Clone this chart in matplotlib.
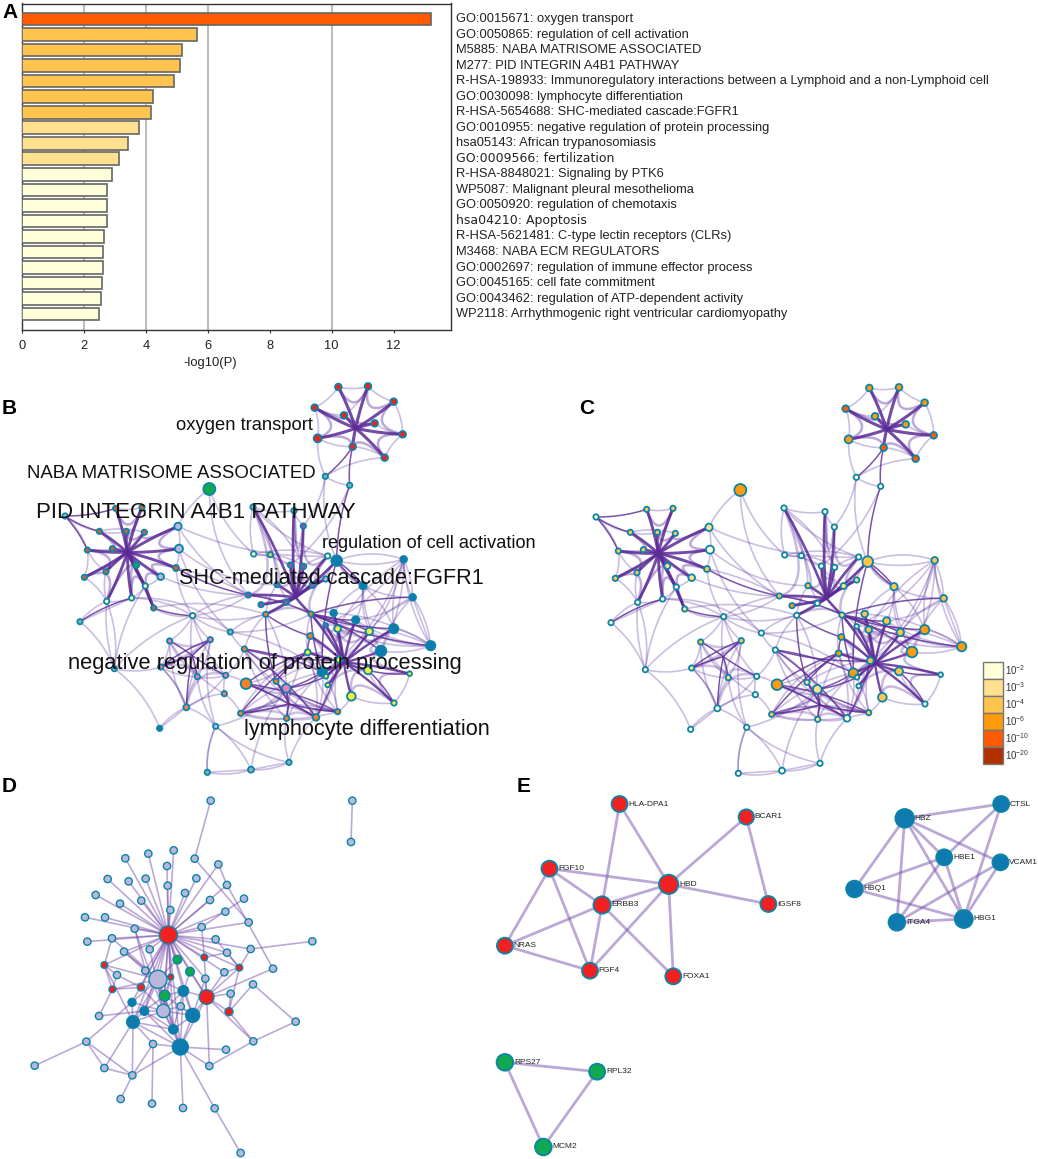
import matplotlib
matplotlib.use("Agg")
import matplotlib.pyplot as plt
from matplotlib.collections import LineCollection
import numpy as np

plt.rcParams['font.family']=['Liberation Sans','DejaVu Sans']

W,H=1038,1159

# ------------------------- panel A data -------------------------
terms=["GO:0015671: oxygen transport","GO:0050865: regulation of cell activation",
       "M5885: NABA MATRISOME ASSOCIATED","M277: PID INTEGRIN A4B1 PATHWAY",
       "R-HSA-198933: Immunoregulatory interactions between a Lymphoid and a non-Lymphoid cell",
       "GO:0030098: lymphocyte differentiation","R-HSA-5654688: SHC-mediated cascade:FGFR1",
       "GO:0010955: negative regulation of protein processing","hsa05143: African trypanosomiasis",
       "GO:0009566: fertilization","R-HSA-8848021: Signaling by PTK6",
       "WP5087: Malignant pleural mesothelioma","GO:0050920: regulation of chemotaxis",
       "hsa04210: Apoptosis","R-HSA-5621481: C-type lectin receptors (CLRs)",
       "M3468: NABA ECM REGULATORS","GO:0002697: regulation of immune effector process",
       "GO:0045165: cell fate commitment","GO:0043462: regulation of ATP-dependent activity",
       "WP2118: Arrhythmogenic right ventricular cardiomyopathy"]
logp=[13.2,5.65,5.18,5.11,4.90,4.24,4.15,3.77,3.41,3.12,2.92,2.76,2.75,2.73,2.66,2.63,2.61,2.59,2.55,2.49]
bar_bin=[4,2,2,2,2,2,2,1,1,1,0,0,0,0,0,0,0,0,0,0]
dejavu_terms=[9,13]

p_colors=['#ffffd9','#ffe08f','#ffc44d','#ff9a0a','#ff5a00','#b03000']
p_labels=['-2','-3','-4','-6','-10','-20']

# ------------------------- panels B and C share one layout (crop units) -------------------------
net_x=[838,927,1004,767,855,947,1031,776,881,977,799,872,
       451,357,360,18,170,249,121,202,256,85,160,76,141,232,305,351,259,143,218,284,63,166,
       401,514,332,454,305,415,500,496,382,302,470,445,576,690,561,682,651,545,683,771,836,556,
       582,705,733,584,634,806,833,694,734,800,654,761,568,606,682,620,756,
       912,1034,1061,824,890,800,836,931,1004,754,1115,966,746,841,790,927,1052,801,806,877,1005]
net_y=[24,22,68,86,109,133,166,178,203,236,292,319,
       330,442,509,411,388,385,457,457,460,513,509,595,578,558,593,567,621,667,657,687,728,869,
       710,759,786,782,864,893,889,944,985,1048,1042,1180,1172,1150,914,928,907,1003,1018,1015,998,810,
       384,395,441,525,527,531,545,558,562,600,617,618,648,677,670,706,705,
       620,541,655,702,723,739,749,757,749,771,800,816,820,842,879,874,884,892,918,952,972]
net_r=[10,10,10,10,10,10,10,12,10,10,8,8,
       18,11,12,8,8,8,8,8,8,8,8,8,8,9,10,9,8,8,8,8,8,8,
       8,8,8,8,8,8,8,8,9,8,8,8,9,8,16,13,8,8,8,10,8,8,
       8,8,8,8,8,8,16,8,8,8,8,9,8,8,8,8,8,
       11,10,10,10,11,7,10,11,14,9,14,16,9,10,14,12,7,7,7,13,8]
# p bin for panel C
net_p=[3,3,3,4,3,3,4,3,4,4,0,0,
       3,1,0,0,2,2,2,2,2,2,2,2,2,1,1,2,0,0,0,1,0,0,
       0,0,2,2,1,1,0,0,0,0,0,0,0,0,3,1,1,2,1,0,2,0,
       0,0,0,0,0,0,2,0,0,1,2,1,2,3,0,0,1,
       2,2,2,2,2,0,2,2,3,3,3,3,3,2,3,2,0,0,0,2,0]
# cluster colour for panel B
b_palette={'r':'#f22020','g':'#10a850','l':'#b8b8dc','n':'#c8642a','y':'#f5ee3c','k':'#ee7fb8',
           'o':'#f78028','s':'#f08060','w':'#ffffb0','p':'#8a5aa8','t':'#7fb5c0','b':'#0f7ab0','v':'#bcd850'}
net_group=list("rrrrrrrrrrtt")
net_group+=list("glllnnnnnnnnnglnwwwntt")
net_group+=list("wtkkkkkssblttt")+list("okoooooo")
net_group+=list("ttpwvwbpplppppp")+list("oo")
net_group+=list("bbbbbpyyboBbyybyyyyyy".replace("B","b"))

# hub positions and members: thick bundled star arms
hub_xy=[(890,148),(205,520),(710,655),(855,850),(400,830),(690,975)]
hub_members=[[0,1,2,6,9,8,7,3,4,5],
             [16,17,19,20,13,14,27,26,31,28,30,25,29,23,24,21,22,18],
             [57,58,61,65,67,64,63,66,56,68,69,70,71,72,62],
             [72,76,77,78,79,80,81,84,89,93,92,88,91,90,87,86,85,82],
             [36,37,38,39,40,42],
             [48,49,51,52,53,54,50]]
hub_width=[2.2,2.1,1.9,1.7,1.0,1.3]
hub_ring_alpha=[0.42,0.42,0.34,0.34,0.30,0.30]
# extra dark links between hubs or single nodes
dark_edges=[(8,10),(8,11),(11,62),(27,68),(31,34),(28,31),(72,87),(62,87),(15,16),
            (32,30),(71,82),(82,85),(85,48),(55,87),(72,83),(72,84),(73,62),(75,72),
            (37,38),(55,53),(48,54),(49,90),(85,50),(93,88),(88,89),(71,50),(72,80),(72,81),
            (55,86),(62,73),(68,72),(72,77),(87,49),(53,86),(51,85),(15,18),(15,21)]
light_edges=[(0,1),(1,2),(2,6),(6,9),(9,8),(3,7),(3,0),(7,10),(10,11),(9,10),(4,1),(3,4),(5,6),
             (7,8),(10,58),(11,63),(12,13),(12,59),(16,17),(18,20),(18,19),(15,21),(15,18),
             (21,23),(23,29),(21,24),(24,29),(29,30),(26,28),(28,30),(25,28),(29,32),
             (29,33),(33,38),(33,32),(34,36),(34,37),(34,35),(36,38),(36,39),(38,37),(37,39),
             (38,42),(39,42),(40,41),(40,42),(41,42),(42,43),(42,44),(44,45),(45,46),(46,47),
             (44,46),(47,53),(53,55),(49,46),(52,47),(39,44),(37,44),(35,71),(35,87),(34,68),
             (56,57),(56,59),(56,61),(57,58),(59,60),(60,63),(59,61),(61,62),(62,65),(61,64),
             (62,73),(65,67),(67,63),(66,70),(74,62),(74,75),(74,81),(74,83),(75,83),(75,73),
             (73,76),(73,77),(73,81),(81,83),(84,83),(80,83),(77,80),(79,80),(86,90),(91,53),
             (92,93),(89,93),(88,93),(92,54),(87,53),(85,52),(55,71),(55,35),(55,49),(51,54),
             (51,52),(52,53),(48,49),(49,54),(40,48),(40,55),(41,51),(71,49),(72,76),(72,78),
             (13,27),(14,35),(13,68),(27,34),(35,72),(30,34),(31,71),(34,71),(66,71),(68,34),
             (74,78),(74,79),(74,80),(74,84),(74,86),(83,76),(83,77),(83,78),(83,79),(75,77),
             (75,80),(75,84),(73,80),(73,84),(56,64),(56,66),(57,64),(57,63),(59,63),(60,64),
             (51,86),(51,87),(52,86),(53,86),(54,86),(54,87),(50,53),(50,86),(85,53),(85,54),
             (48,85),(49,53),(55,50),(55,52),(82,86),(72,85),(72,86),(78,86),(79,86),(80,86),
             (36,41),(37,42),(38,39),(38,42),(39,40),(40,34),(34,39),(42,36),(44,49),(44,47)]
long_curves=[(12,68,0.18),(13,61,0.12),(14,66,0.18),(26,68,0.10),(27,68,-0.08),(29,33,0.10),
             (33,34,-0.12),(32,30,0.0),(43,42,0.0),(33,43,-0.14),(62,74,-0.18),(62,73,0.2),
             (75,83,0.0),(74,75,-0.1),(44,45,0.12),(45,46,0.0),(46,47,0.0),(31,34,0.18),
             (28,33,0.12),(10,62,0.14),(30,35,-0.2),(51,85,-0.18),(51,54,-0.16),(51,53,-0.25)]

# ------------------------- panel D data (crop units) -------------------------
d_x=[632,1057,1053,521,445,376,584,655,501,323,386,437,589,503,681,287,555,424,630,732,360,511,676,255,315,746,404,605,262,336,
     647,937,752,372,449,681,819,351,436,673,616,759,692,542,297,887,259,760,459,678,313,397,628,104,362,456,549,644,722,
     474,490,505,620,313,613,718,512,423,337,687,532,570,494,550,396,433,578,399,520,541]
d_y=[62,62,186,211,221,235,236,253,258,297,304,296,295,317,315,345,339,362,360,356,371,390,395,412,412,427,446,441,485,475,
     478,484,507,515,508,518,566,585,572,577,596,613,641,679,708,725,785,784,792,809,864,886,858,857,957,971,984,985,1119,
     598,693,465,651,555,532,563,591,622,628,695,539,575,647,633,667,693,706,726,748,801]
d_r=[11]*59+[27,20,27,22,10,10,10,9,11,10,12,13,13,16,16,12,13,21,19,14,24]
d_color=['l']*61+['r']*9+['g']*3+['b']*7
d_hub=61
d_hub_links=[3,4,5,7,8,9,10,11,12,13,14,15,16,17,18,20,21,22,23,24,25,26,27,28,29,30,32,33,34,35,38,39,
             59,60,62,64,65,66,70,71,72,73,74,75,76,77,78,79,63,67,40]
d_links=[(0,6),(1,2),(6,25),(19,27),(7,14),(14,36),(31,32),(36,62),(41,45),(45,47),(47,52),(47,62),(52,79),(49,79),(52,62),
         (46,53),(46,50),(46,51),(50,51),(51,79),(50,77),(51,77),(51,54),(46,74),(48,79),(48,55),(48,51),(48,77),(79,56),(79,57),
         (57,58),(79,76),(79,78),(44,68),(44,75),(63,68),(63,77),(26,38),(29,63),(33,59),(37,67),(63,59),(68,59),(26,60),(34,60),
         (59,60),(59,72),(59,73),(59,75),(59,74),(59,77),(59,78),(60,72),(60,73),(60,74),(60,75),(60,76),(60,77),(60,78),(60,79),
         (72,73),(72,75),(72,76),(72,78),(72,79),(73,76),(73,78),(73,79),(74,77),(75,77),(75,78),(75,79),(76,78),(77,78),(77,79),
         (62,73),(62,76),(62,69),(62,79),(62,65),(62,64),(62,39),(62,42),(62,40),(62,71),(65,39),(65,69),(65,35),(30,65),(64,35),
         (69,47),(27,64),(70,59),(71,73),(66,72),(66,60),(67,60),(67,68),(38,72),(40,76),(42,69),(43,60),(43,76),(69,41),(65,32),
         (68,37),(63,37),(33,38),(29,59)]

# ------------------------- panel E data (crop units) -------------------------
e_names=["HLA-DPA1","BCAR1","FGF10","HBD","ERBB3","IGSF8","NRAS","FGF4","FOXA1",
         "HBZ","CTSL","HBE1","VCAM1","HBQ1","ITGA4","HBG1","RPS27","RPL32","MCM2"]
e_x=[392,748,195,530,343,810,70,309,543,1193,1464,1304,1462,1052,1171,1359,70,329,178]
e_y=[72,111,266,313,375,372,497,572,589,115,72,232,247,327,427,417,847,875,1101]
e_r=[24,23,24,29,26,24,24,24,24,28,24,24,24,25,25,27,25,24,25]
e_color=['r']*9+['b']*7+['g']*3
e_links=[(0,3),(0,4),(1,3),(1,5),(2,3),(2,4),(2,6),(2,7),(3,4),(3,5),(3,7),(3,8),(4,6),(4,7),(4,8),(6,7),
         (9,10),(9,11),(9,12),(9,13),(9,14),(9,15),(10,11),(10,15),(11,13),(11,14),(11,15),(12,14),(12,15),(13,15),(14,15),
         (16,17),(16,18),(17,18)]

node_edge='#0a85a8'
fig=plt.figure(figsize=(W/100,H/100),dpi=100,facecolor='white')

# ------------------------- panel A -------------------------
ax=fig.add_axes([22/W,1-330/H,(451-22)/W,(330-3.5)/H])
ax.barh(range(len(logp)),logp,height=0.815,color=[p_colors[b] for b in bar_bin],
        edgecolor='#666666',linewidth=1.2,zorder=3)
ax.set_xlim(0,13.85)
ax.set_ylim(20.02,-1)
for g in [2,4,6,10]:
    ax.axvline(g,color='#bdbdbd',lw=1.5,zorder=1)
ax.set_xticks([0,2,4,6,8,10,12])
ax.set_yticks([])
ax.tick_params(axis='x',labelsize=9.3,length=2,width=0.8,pad=5,color='#333333',labelcolor='#222222')
ax.set_xlabel("-log10(P)",fontsize=9.4,color='#222222',labelpad=4,x=0.438)
for s in ax.spines.values():
    s.set_linewidth(1.0)
    s.set_color('#333333')
for i,t in enumerate(terms):
    if i in dejavu_terms:
        ax.text(14.0,i,t,fontsize=9.0,family='DejaVu Sans',va='center',color='#222222',clip_on=False)
    else:
        ax.text(14.0,i,t,fontsize=9.25,va='center',color='#222222',clip_on=False)

# ------------------------- overlay in pixel coordinates -------------------------
ov=fig.add_axes([0,0,1,1],facecolor='none')
ov.set_xlim(0,W)
ov.set_ylim(H,0)
ov.axis('off')

def bezier(p,q,c,n=30):
    t=np.linspace(0,1,n)[:,None]
    return (1-t)**2*p+2*t*(1-t)*c+t**2*q

def bent(p,q,b):
    d=q-p
    return (p+q)/2+b*np.array([-d[1],d[0]])

def draw_net(x0,y0,colors):
    xy=np.column_stack([x0+np.array(net_x)/3,y0+np.array(net_y)/3])
    light=[]
    for i,j in light_edges:
        b=0.13 if (i+j)%2 else -0.13
        light.append(bezier(xy[i],xy[j],bent(xy[i],xy[j],b)))
    for i,j,b in long_curves:
        light.append(bezier(xy[i],xy[j],bent(xy[i],xy[j],b)))
    ov.add_collection(LineCollection(light,colors='#5e35a0',linewidths=1.2,alpha=0.32,zorder=2))
    dark=[]
    for i,j in dark_edges:
        b=0.08 if (i+j)%2 else -0.08
        dark.append(bezier(xy[i],xy[j],bent(xy[i],xy[j],b)))
    ov.add_collection(LineCollection(dark,colors='#5b2a96',linewidths=1.1,alpha=0.8,zorder=3))
    for (hx,hy),mem,lw,ra in zip(hub_xy,hub_members,hub_width,hub_ring_alpha):
        h=np.array([x0+hx/3,y0+hy/3])
        # neighbouring members join through the hub, which gives the bundled look
        ring=[bezier(xy[a],xy[b],0.75*h+0.125*(xy[a]+xy[b])) for a,b in zip(mem,mem[1:])]
        ov.add_collection(LineCollection(ring,colors='#5e35a0',linewidths=1.8,alpha=ra,zorder=2))
        arms=[bezier(xy[m],h,bent(xy[m],h,0.04 if m%2 else -0.04)) for m in mem]
        ov.add_collection(LineCollection(arms,colors='#5b2a96',linewidths=lw,alpha=0.85,zorder=3))
    ov.scatter(xy[:,0],xy[:,1],s=(np.array(net_r)/3*2*0.72)**2,c=colors,edgecolors=node_edge,linewidths=1.3,zorder=4)

draw_net(590-531,380-1,[b_palette[g] for g in net_group])
draw_net(590,380,[p_colors[i] for i in net_p])

# B labels
b_labels=[("oxygen transport",176,426,13.2),("NABA MATRISOME ASSOCIATED",27,473,13.4),
          ("PID INTEGRIN A4B1 PATHWAY",36,512,16.05),("regulation of cell activation",322,543,13.05),
          ("SHC-mediated cascade:FGFR1",179,578,15.6),("negative regulation of protein processing",68,664,15.75),
          ("lymphocyte differentiation",244,729,15.7)]
for t,x,y,fs in b_labels:
    ov.text(x,y,t,fontsize=fs,va='center',ha='left',color='#111111',zorder=6)

# C legend
cell=17.0
for i,(c,l) in enumerate(zip(p_colors,p_labels)):
    ov.bar(983,cell,width=20,bottom=662+i*cell,align='edge',color=c,edgecolor='#777777',linewidth=1.0,zorder=5)
    ov.text(1005,662+(i+0.5)*cell,"10$^{\\mathregular{%s}}$"%l,fontsize=7,va='center',color='#333333')

# D
dxy=np.column_stack([np.array(d_x)/3,780+np.array(d_y)/3])
segs=[(dxy[d_hub],dxy[i]) for i in d_hub_links]+[(dxy[i],dxy[j]) for i,j in d_links]
ov.add_collection(LineCollection(segs,colors='#7a52ad',linewidths=1.2,alpha=0.5,zorder=2))
ov.scatter(dxy[:,0],dxy[:,1],s=(np.array(d_r)/3*2*0.72)**2,c=[b_palette[g] for g in d_color],
           edgecolors=node_edge,linewidths=1.0,zorder=4)

# E (that crop came back slightly narrower than 3x, hence its own x scale)
exy=np.column_stack([480+np.array(e_x)*0.356,780+np.array(e_y)/3])
segs=[(exy[i],exy[j]) for i,j in e_links]
ov.add_collection(LineCollection(segs,colors='#7a52ad',linewidths=2.0,alpha=0.5,zorder=2))
ov.scatter(exy[:,0],exy[:,1],s=(np.array(e_r)/3*2*0.72)**2,c=[b_palette[g] for g in e_color],
           edgecolors=node_edge,linewidths=1.3,zorder=4)
for n,(x,y),r in zip(e_names,exy,e_r):
    ov.text(x+r/3+0.8,y,n,fontsize=6.0,va='center',color='#222222',zorder=5)

# panel letters
for l,x,y in [("A",2,12),("B",2,408),("C",579,408),("D",2,786),("E",517,786)]:
    ov.text(x,y,l,fontsize=15,fontweight='bold',va='center',color='black',zorder=7)

fig.savefig("out.png",dpi=100)
